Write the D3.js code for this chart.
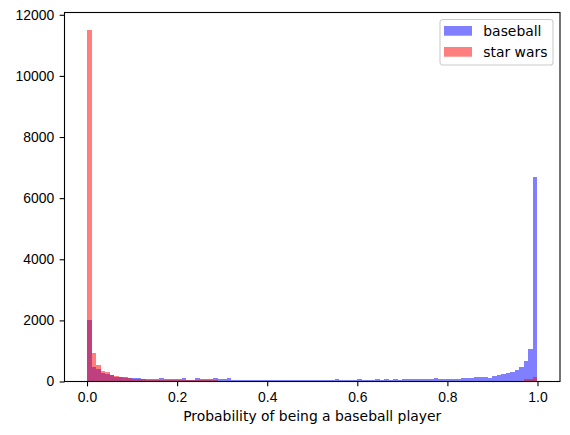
<!DOCTYPE html>
<html>
<head>
<meta charset="utf-8">
<script src="https://cdn.jsdelivr.net/npm/d3@7"></script>
<style>
  body { margin: 0; background: #fff; }
  svg { font-family: "DejaVu Sans", sans-serif; }
  .axis path, .axis line { stroke: #000; stroke-width: 1.1; }
  .axis text { font-size: 13.9px; fill: #000; }
</style>
</head>
<body>
<div id="chart"></div>
<script>
// histogram: 100 bins of width 0.01 on [0, 1]
const binCount = 100;
const binEdges = d3.range(binCount).map(i => i / binCount);

const seriesNames = ["baseball", "star wars"];

const baseballCounts = [
  2010, 490, 400, 290, 230, 210, 160, 150, 135, 120,
  115, 115, 95, 85, 85, 80, 110, 80, 80, 75,
  75, 105, 55, 55, 105, 75, 75, 75, 105, 75,
  70, 100, 50, 50, 50, 50, 48, 50, 48, 50,
  48, 50, 48, 50, 50, 48, 50, 48, 50, 50,
  50, 48, 55, 50, 50, 80, 50, 50, 55, 50,
  80, 55, 55, 55, 80, 55, 80, 55, 80, 55,
  80, 80, 80, 80, 80, 80, 80, 115, 80, 80,
  80, 82, 82, 115, 115, 115, 145, 145, 145, 115,
  175, 205, 235, 265, 300, 360, 475, 665, 1060, 6690
];

const starWarsCounts = [
  11500, 940, 540, 355, 310, 215, 180, 150, 120, 105,
  95, 85, 70, 60, 55, 55, 50, 50, 50, 50,
  50, 50, 50, 50, 50, 50, 50, 50, 50, 22,
  22, 22, 22, 22, 22, 20, 20, 20, 20, 20,
  20, 20, 20, 20, 20, 20, 20, 20, 20, 20,
  20, 20, 20, 20, 20, 20, 20, 20, 20, 20,
  20, 20, 20, 20, 20, 20, 20, 20, 20, 20,
  20, 20, 20, 22, 22, 22, 22, 22, 22, 22,
  22, 22, 22, 22, 22, 22, 25, 25, 25, 25,
  25, 25, 25, 25, 25, 25, 28, 70, 70, 135
];

const xTicks = [0, 0.2, 0.4, 0.6, 0.8, 1.0];
const yTicks = [0, 2000, 4000, 6000, 8000, 10000, 12000];
const colors = ["rgba(0,0,255,0.5)", "rgba(255,0,0,0.5)"];

// Dimensions
const width = 570, height = 435;
const plot = { left: 64.5, right: 560, top: 12.5, bottom: 381.5 };

const svg = d3.select("#chart")
  .append("svg")
  .attr("width", width)
  .attr("height", height);

const xScale = d3.scaleLinear()
  .domain([-0.05, 1.05])
  .range([plot.left, plot.right]);

const yMax = d3.max([...baseballCounts, ...starWarsCounts]) * 1.05;
const yScale = d3.scaleLinear()
  .domain([0, yMax])
  .range([plot.bottom, plot.top]);

const binWidth = 1 / binCount;

// Draw bars, baseball first then star wars on top
const allSeries = [baseballCounts, starWarsCounts];
allSeries.forEach((counts, si) => {
  svg.append("g")
    .selectAll("rect")
    .data(counts)
    .join("rect")
    .attr("x", (d, i) => xScale(binEdges[i]))
    .attr("width", xScale(binWidth) - xScale(0))
    .attr("y", d => yScale(d))
    .attr("height", d => yScale(0) - yScale(d))
    .attr("fill", colors[si])
    .attr("shape-rendering", "crispEdges");
});

// Axes
const tickLen = 4.86;
const xAxis = d3.axisBottom(xScale)
  .tickValues(xTicks)
  .tickFormat(d3.format(".1f"))
  .tickSize(tickLen)
  .tickPadding(4.9)
  .tickSizeOuter(0);
const yAxis = d3.axisLeft(yScale)
  .tickValues(yTicks)
  .tickFormat(d => d)
  .tickSize(tickLen)
  .tickPadding(5.5)
  .tickSizeOuter(0);

const xg = svg.append("g")
  .classed("axis", true)
  .attr("transform", `translate(0, ${plot.bottom})`)
  .call(xAxis);
xg.select(".domain").remove();
xg.selectAll("text").attr("dy", "0.76em");

const yg = svg.append("g")
  .classed("axis", true)
  .attr("transform", `translate(${plot.left}, 0)`)
  .call(yAxis);
yg.select(".domain").remove();

// frame
svg.append("rect")
  .attr("x", plot.left)
  .attr("y", plot.top)
  .attr("width", plot.right - plot.left)
  .attr("height", plot.bottom - plot.top)
  .attr("fill", "none")
  .attr("stroke", "#000")
  .attr("stroke-width", 1.1);

// x label
svg.append("text")
  .attr("x", (plot.left + plot.right) / 2)
  .attr("y", 421)
  .attr("text-anchor", "middle")
  .style("font-size", "13.9px")
  .text("Probability of being a baseball player");

// Legend
const legend = svg.append("g").attr("transform", "translate(440, 19.5)");
legend.append("rect")
  .attr("width", 113)
  .attr("height", 45.5)
  .attr("rx", 2.8)
  .attr("fill", "rgba(255,255,255,0.8)")
  .attr("stroke", "#cccccc")
  .attr("stroke-width", 1.1);

seriesNames.forEach((name, i) => {
  const row = legend.append("g").attr("transform", `translate(0, ${i * 21})`);
  row.append("rect")
    .attr("x", 4)
    .attr("y", 6.5)
    .attr("width", 28)
    .attr("height", 9.7)
    .attr("fill", colors[i]);
  row.append("text")
    .attr("x", 43.3)
    .attr("y", 16.3)
    .style("font-size", "13.9px")
    .text(name);
});
</script>
</body>
</html>
